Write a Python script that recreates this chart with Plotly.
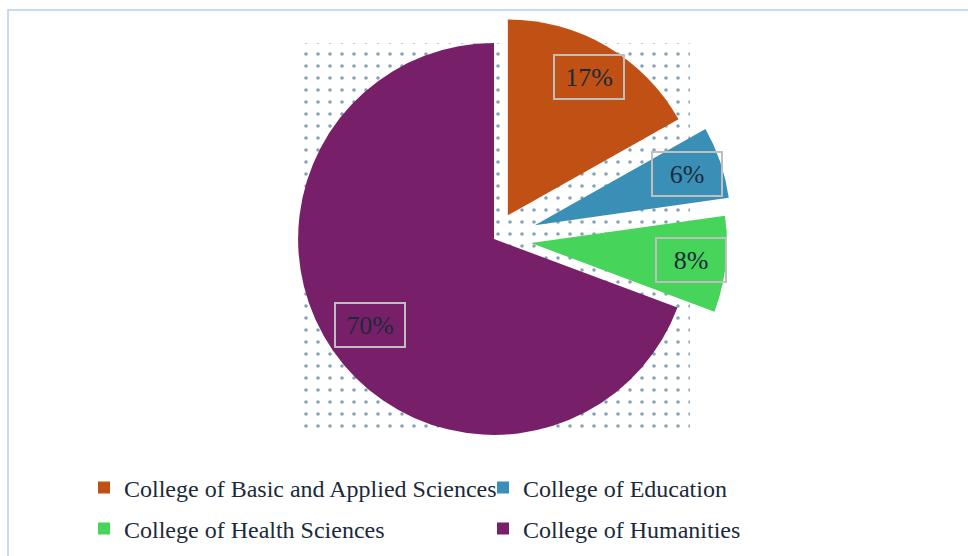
import math
import plotly.graph_objects as go

# ---- data ----
categories = ["College of Basic and Applied Sciences", "College of Education",
              "College of Health Sciences", "College of Humanities"]
values = [17, 6, 8, 70]
label_texts = ["17%", "6%", "8%", "70%"]

# ---- style ----
colors = ["#c05014", "#3a8fb7", "#47d45a", "#781f69"]
pulls = [0.14, 0.22, 0.19, 0.0]
label_frac = [0.82, 0.82, 0.82, 0.77]
W, H = 968, 556
CX, CY, BOX = 494, 239, 478
FONT = "Liberation Serif, Times New Roman, serif"
TXT = "#1b2a3a"

maxpull = max(pulls)
R = BOX / (2 + 2 * maxpull)

fig = go.Figure()

# dotted background square behind the pie
x0, x1 = CX - R, CX + R
y0, y1 = CY - R, CY + R
fig.add_trace(go.Scatter(
    x=[x0, x1, x1, x0, x0], y=[y0, y0, y1, y1, y0],
    mode="lines", fill="toself", line=dict(width=0),
    fillcolor="white",
    fillpattern=dict(shape=".", fgcolor="#0a4668", bgcolor="white", size=12, solidity=0.07),
    showlegend=False, hoverinfo="skip"))

fig.add_trace(go.Pie(
    labels=categories, values=values, sort=False, direction="clockwise", rotation=0,
    pull=pulls, marker=dict(colors=colors, line=dict(width=0)),
    textinfo="none", showlegend=False,
    domain=dict(x=[(CX - BOX / 2) / W, (CX + BOX / 2) / W], y=[1 - BOX / H, 1])))

# legend entries (one legend per entry, 2x2 grid)
legend_pos = [(84, 488), (483, 488), (84, 529), (483, 529)]
layout_legends = {}
for i, (cat, col) in enumerate(zip(categories, colors)):
    key = "legend" if i == 0 else f"legend{i+1}"
    fig.add_trace(go.Scatter(
        x=[None], y=[None], mode="markers", name=cat,
        marker=dict(symbol="square", size=12, color=col),
        legend=key, showlegend=True))
    lx, ly = legend_pos[i]
    layout_legends[key] = dict(
        x=lx / W, y=1 - ly / H, xanchor="left", yanchor="middle",
        bgcolor="rgba(0,0,0,0)", borderwidth=0,
        font=dict(family=FONT, size=24, color=TXT))

# boxed data labels, placed along each slice's bisector
annotations = []
total = sum(values)
cum = 0
for i, v in enumerate(values):
    mid = (cum + v / 2) / total * 2 * math.pi
    cum += v
    ux, uy = math.sin(mid), -math.cos(mid)
    ax = CX + pulls[i] * R * ux + label_frac[i] * R * ux
    ay = CY + pulls[i] * R * uy + label_frac[i] * R * uy
    annotations.append(dict(
        x=ax / W, y=1 - ay / H, xref="paper", yref="paper", text=label_texts[i],
        xanchor="center", yanchor="middle",
        showarrow=False, font=dict(family=FONT, size=26, color=TXT),
        bordercolor="#bfbfbf", borderwidth=2, borderpad=4, width=60, height=34,
        bgcolor="rgba(0,0,0,0)"))

fig.update_layout(
    width=W, height=H, margin=dict(l=0, r=0, t=0, b=0),
    paper_bgcolor="white", plot_bgcolor="rgba(0,0,0,0)",
    xaxis=dict(range=[0, W], visible=False, fixedrange=True),
    yaxis=dict(range=[H, 0], visible=False, fixedrange=True),
    annotations=annotations,
    shapes=[dict(type="rect", xref="paper", yref="paper",
                 x0=8 / W, x1=1.05, y0=1 - 10 / H, y1=-0.05,
                 line=dict(color="#c6daf0", width=2), layer="above")],
    **layout_legends)

fig.write_html("out.html", config={"displayModeBar": False},
               post_script="document.body.style.margin='0';")
